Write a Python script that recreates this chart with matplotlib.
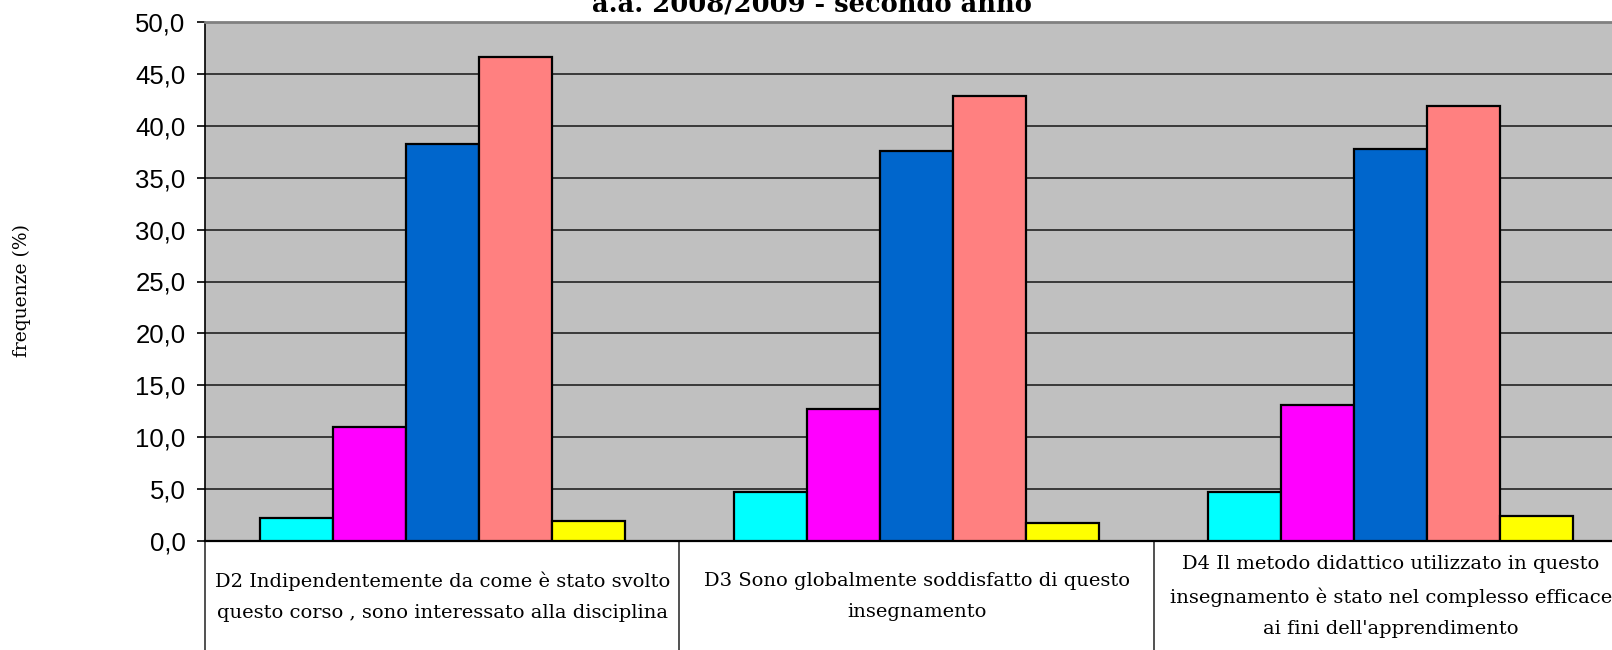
import matplotlib
matplotlib.use("Agg")
import matplotlib.pyplot as plt
import numpy as np

categories = [
    "D2 Indipendentemente da come è stato svolto\nquesto corso , sono interessato alla disciplina",
    "D3 Sono globalmente soddisfatto di questo\ninsegnamento",
    "D4 Il metodo didattico utilizzato in questo\ninsegnamento è stato nel complesso efficace\nai fini dell'apprendimento",
]
series_cyan = [2.2, 4.7, 4.7]
series_magenta = [11.0, 12.7, 13.1]
series_blue = [38.2, 37.6, 37.8]
series_pink = [46.6, 42.9, 41.9]
series_yellow = [1.9, 1.7, 2.4]
series = [series_cyan, series_magenta, series_blue, series_pink, series_yellow]
colors = ["#00FFFF", "#FF00FF", "#0066CC", "#FF8080", "#FFFF00"]
yticks = [0, 5, 10, 15, 20, 25, 30, 35, 40, 45, 50]
title = "a.a. 2008/2009 - secondo anno"
ylabel = "frequenze (%)"

fig = plt.figure(figsize=(16.12, 6.5), dpi=100)
ax = fig.add_axes([205/1612, 1-541/650, (1628-205)/1612, (541-22)/650])
ax.set_facecolor("#C0C0C0")

n = len(series)
w = 1/(n + 1.5)
x = np.arange(len(categories))
for i, (vals, c) in enumerate(zip(series, colors)):
    ax.bar(x + (i - (n-1)/2)*w, vals, width=w, color=c, edgecolor="black",
           linewidth=1.6, zorder=3)

ax.set_xlim(-0.5, len(categories) - 0.5)
ax.set_ylim(0, 50)
ax.set_yticks(yticks)
ax.set_yticklabels([f"{v:.1f}".replace(".", ",") for v in yticks],
                   fontfamily="Liberation Sans", fontsize=18.5)
ax.tick_params(axis="y", direction="out", length=6, width=1.2, color="black", pad=8)
ax.yaxis.grid(True, color="#222222", linewidth=1.2, zorder=1)
ax.set_axisbelow(True)

# category boundaries as long major ticks, labels as minor ticks at centers
ax.set_xticks(np.arange(len(categories) + 1) - 0.5)
ax.set_xticklabels([])
ax.tick_params(axis="x", which="major", direction="out", length=80, width=1.2, color="#333333")
ax.set_xticks(x, minor=True)
ax.set_xticklabels(categories, minor=True, fontfamily="DejaVu Serif", fontsize=14,
                   linespacing=1.95)
ax.tick_params(axis="x", which="minor", length=0, pad=40)
for t in ax.xaxis.get_minor_ticks():
    t.label1.set_va("center")

ax.spines["right"].set_visible(False)
ax.spines["top"].set_color("#808080")
ax.spines["top"].set_linewidth(2)
ax.spines["left"].set_color("black")
ax.spines["left"].set_linewidth(1.2)
ax.spines["bottom"].set_color("black")
ax.spines["bottom"].set_linewidth(1.6)

fig.text(22/1612, 1-291/650, ylabel, rotation=90, ha="center", va="center",
         fontfamily="DejaVu Serif", fontsize=13.5)
fig.text(812/1612, 1-12/650, title, ha="center", va="baseline",
         fontfamily="DejaVu Serif", fontweight="bold", fontsize=18.5)

fig.savefig("out.png", dpi=100)
